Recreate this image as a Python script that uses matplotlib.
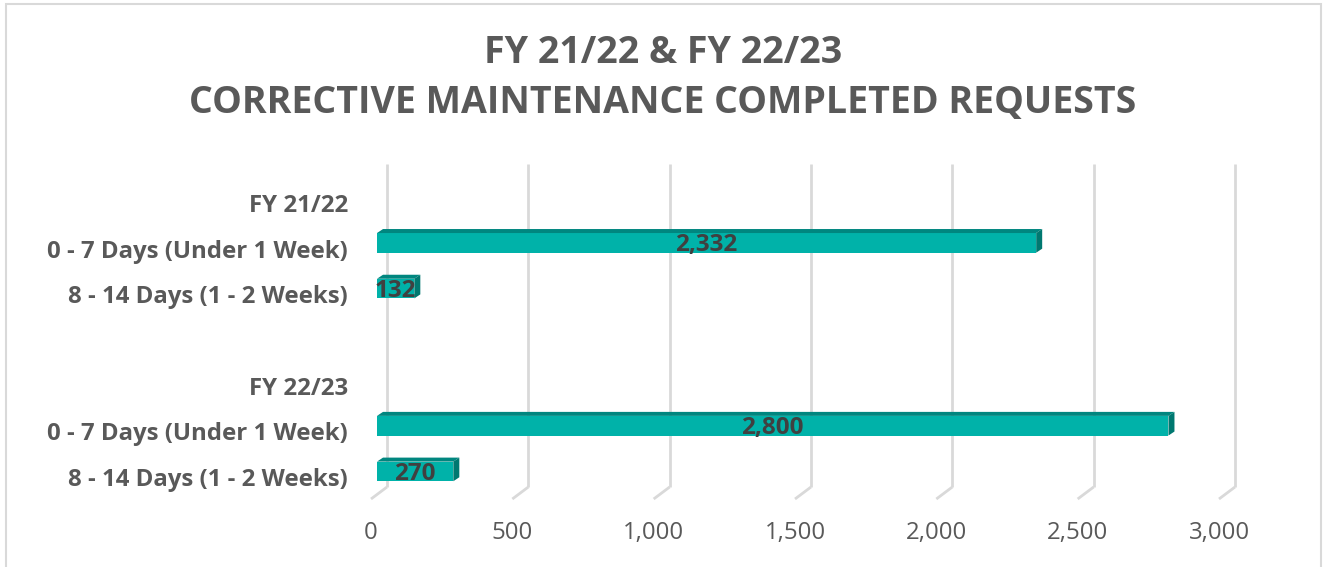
import numpy as np
import matplotlib
matplotlib.use("Agg")
import matplotlib.pyplot as plt
import matplotlib.transforms as mtransforms
from matplotlib.patches import Polygon, Rectangle

# ---- data ----
title_line1 = "FY 21/22 & FY 22/23"
title_line2 = "CORRECTIVE MAINTENANCE COMPLETED REQUESTS"
categories = ["FY 21/22", "0 - 7 Days (Under 1 Week)", "8 - 14 Days (1 - 2 Weeks)", "",
              "FY 22/23", "0 - 7 Days (Under 1 Week)", "8 - 14 Days (1 - 2 Weeks)"]
values = [np.nan, 2332, 132, np.nan, np.nan, 2800, 270]
x_ticks = [0, 500, 1000, 1500, 2000, 2500, 3000]
x_tick_labels = ["0", "500", "1,000", "1,500", "2,000", "2,500", "3,000"]

# ---- style ----
W, H, DPI = 1323, 567, 100
FONT = "Open Sans"
TXT = "#595959"
LBL = "#404040"
FRONT = "#00B2A9"
TOP = "#00867F"
SIDE = "#007870"
GRID = "#d9d9d9"

fig = plt.figure(figsize=(W / DPI, H / DPI), dpi=DPI)
fig.patch.set_facecolor("white")

ax_l, ax_r, ax_t, ax_b = 377, 1225, 180, 500
ax = fig.add_axes([ax_l / W, 1 - ax_b / H, (ax_r - ax_l) / W, (ax_b - ax_t) / H])
ax.set_xlim(0, 3000)
n = len(categories)
ax.set_ylim(n - 0.5, -0.5)
for s in ax.spines.values():
    s.set_visible(False)
ax.set_facecolor("none")

px_x = 3000 / (ax_r - ax_l)  # data units per pixel in x

# gridlines (back wall) + floor slant
blend = mtransforms.blended_transform_factory(ax.transData, ax.transAxes)
back_dx, front_dx = 10, -6
y_top = (ax_b - 164) / (ax_b - ax_t)
y_back = (ax_b - 487) / (ax_b - ax_t)
y_front = (ax_b - 499) / (ax_b - ax_t)
for xv in x_ticks:
    xb = xv + back_dx * px_x
    xf = xv + front_dx * px_x
    ax.plot([xb, xb], [y_top, y_back], color=GRID, lw=2.0, transform=blend,
            clip_on=False, zorder=1, solid_capstyle="butt")
    ax.plot([xb, xf], [y_back, y_front], color=GRID, lw=2.0, transform=blend,
            clip_on=False, zorder=1, solid_capstyle="butt")

# bars (3D look)
ypos = np.arange(n)
bar_h = 0.43
shift = -0.125
depth_x, depth_y = 6, 4  # pixels
off = mtransforms.offset_copy(ax.transData, fig=fig, x=depth_x, y=depth_y, units="dots")
for i, v in enumerate(values):
    if np.isnan(v):
        continue
    yc = ypos[i] + shift
    ax.barh(yc, v, height=bar_h, color=FRONT, zorder=3, linewidth=0)
    top_y = yc - bar_h / 2
    bot_y = yc + bar_h / 2
    # top face
    p1 = ax.transData.transform([(0, top_y), (v, top_y)])
    p2 = off.transform([(v, top_y), (0, top_y)])
    top_poly = Polygon(np.vstack([p1, p2]), closed=True, transform=None,
                       facecolor=TOP, edgecolor="none", zorder=3)
    fig.patches.append(top_poly)
    # side face
    s1 = ax.transData.transform([(v, top_y), (v, bot_y)])
    s2 = off.transform([(v, bot_y), (v, top_y)])
    side_poly = Polygon(np.vstack([s1, s2]), closed=True, transform=None,
                        facecolor=SIDE, edgecolor="none", zorder=3)
    fig.patches.append(side_poly)
    ax.text(v / 2, ypos[i] - 0.07, f"{int(v):,}", ha="center", va="center",
            fontsize=17.5, fontweight="bold", color=LBL, family=FONT, zorder=5)

# y tick labels (categories)
ax.set_yticks(ypos)
ax.set_yticklabels(categories, fontsize=17.3, fontweight="bold", color=TXT, family=FONT)
ax.tick_params(axis="y", length=0, pad=21)

# x tick labels
ax.set_xticks(x_ticks)
ax.set_xticklabels(x_tick_labels, fontsize=17.3, color=TXT, family=FONT)
ax.tick_params(axis="x", length=0, pad=15)
sh = mtransforms.ScaledTranslation(-6 / DPI, 0, fig.dpi_scale_trans)
for lab in ax.get_xticklabels():
    lab.set_transform(lab.get_transform() + sh)

# title
fig.text(663 / W, 1 - 53 / H, title_line1, ha="center", va="center",
         fontsize=27, fontweight="bold", color=TXT, family=FONT)
fig.text(663 / W, 1 - 103 / H, title_line2, ha="center", va="center",
         fontsize=27, fontweight="bold", color=TXT, family=FONT)

# chart border
fig.patches.append(Rectangle((5.5 / W, -0.02), (1321 - 5.5) / W, 1.02 - 3.5 / H,
                             transform=fig.transFigure, fill=False,
                             edgecolor=GRID, lw=1.5, zorder=0))

fig.savefig("out.png", dpi=DPI, facecolor="white")
